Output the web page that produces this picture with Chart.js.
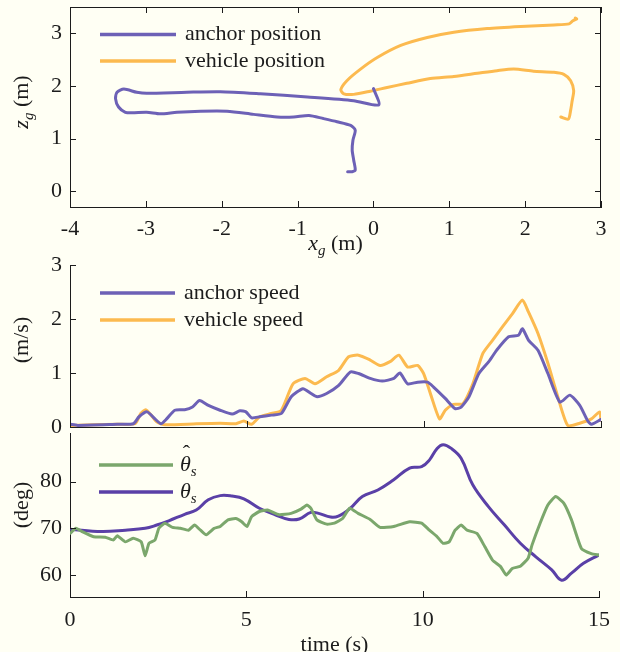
<!DOCTYPE html>
<html lang="en">
<head>
<meta charset="UTF-8">
<title>Anchor / vehicle motion</title>
<script src="https://cdn.jsdelivr.net/npm/chart.js"></script>
<style>
  body { margin: 0; background: #fffff4; }
  #wrap { position: relative; width: 620px; height: 652px; overflow: hidden; background: #fffff4; }
  #wrap canvas { position: absolute; left: 0; }
</style>
</head>
<body>
<div id="wrap">
  <canvas id="pos" width="620" height="258" style="top:0px"></canvas>
  <canvas id="speed" width="620" height="195" style="top:250px"></canvas>
  <canvas id="angle" width="620" height="227" style="top:425px"></canvas>
</div>
<script>
// ground-frame trajectories (m)
const anchorX = [0.00, 0.07, -0.26, -0.87, -1.49, -2.02, -2.46, -2.99, -3.12, -3.29, -3.38, -3.40, -3.36, -3.27, -3.18, -2.99, -2.81, -2.59, -2.28, -1.93, -1.58, -1.27, -1.05, -0.85, -0.66, -0.48, -0.30, -0.24, -0.27, -0.28, -0.26, -0.24, -0.28, -0.34];
const anchorZ = [1.95, 1.64, 1.72, 1.79, 1.85, 1.89, 1.88, 1.86, 1.88, 1.94, 1.88, 1.76, 1.60, 1.50, 1.49, 1.50, 1.47, 1.50, 1.52, 1.52, 1.46, 1.41, 1.41, 1.44, 1.38, 1.32, 1.25, 1.16, 0.97, 0.78, 0.59, 0.40, 0.37, 0.37];
const vehicleX = [2.47, 2.57, 2.60, 2.62, 2.64, 2.60, 2.51, 2.38, 2.11, 1.85, 1.63, 1.37, 1.06, 0.75, 0.44, 0.18, -0.04, -0.26, -0.39, -0.43, -0.35, -0.17, 0.05, 0.36, 0.71, 1.06, 1.50, 1.94, 2.38, 2.58, 2.63, 2.68, 2.66];
const vehicleZ = [1.41, 1.37, 1.54, 1.72, 1.91, 2.10, 2.22, 2.26, 2.28, 2.32, 2.29, 2.24, 2.18, 2.14, 2.05, 1.97, 1.90, 1.84, 1.85, 1.93, 2.10, 2.32, 2.54, 2.77, 2.92, 3.02, 3.09, 3.13, 3.16, 3.18, 3.24, 3.27, 3.29];
const posXTicks = [-4, -3, -2, -1, 0, 1, 2, 3];
const posZTicks = [0, 1, 2, 3];

// speeds (m/s) against time (s)
const anchorSpeedT = [0, 0.22, 1.34, 1.79, 1.95, 2.18, 2.40, 2.57, 2.73, 2.96, 3.24, 3.46, 3.66, 3.91, 4.24, 4.58, 4.80, 4.97, 5.13, 5.36, 5.69, 5.97, 6.25, 6.58, 6.81, 6.98, 7.25, 7.59, 7.92, 8.15, 8.48, 8.82, 9.15, 9.32, 9.54, 9.82, 10.10, 10.27, 10.60, 10.88, 11.05, 11.27, 11.55, 11.83, 12.05, 12.39, 12.67, 12.78, 12.95, 13.22, 13.50, 13.84, 14.12, 14.40, 14.62, 14.73, 15.00];
const anchorSpeed = [0.05, 0.03, 0.05, 0.06, 0.19, 0.28, 0.15, 0.06, 0.15, 0.31, 0.32, 0.37, 0.49, 0.40, 0.31, 0.24, 0.30, 0.28, 0.17, 0.19, 0.22, 0.25, 0.56, 0.71, 0.62, 0.56, 0.62, 0.77, 1.02, 0.99, 0.90, 0.85, 0.90, 1.00, 0.80, 0.83, 0.83, 0.74, 0.53, 0.34, 0.37, 0.56, 0.99, 1.21, 1.42, 1.67, 1.70, 1.82, 1.61, 1.42, 0.99, 0.46, 0.59, 0.40, 0.12, 0.05, 0.14];
const vehicleSpeedT = [0, 1.34, 1.84, 2.00, 2.14, 2.29, 2.46, 2.68, 3.57, 4.24, 4.69, 4.91, 5.13, 5.36, 5.69, 5.97, 6.30, 6.64, 6.92, 7.25, 7.59, 7.87, 8.15, 8.48, 8.76, 9.04, 9.29, 9.54, 9.82, 9.99, 10.21, 10.44, 10.60, 10.83, 11.10, 11.38, 11.66, 11.94, 12.22, 12.50, 12.78, 12.95, 13.22, 13.50, 13.78, 14.06, 14.40, 14.73, 14.96, 15.00];
const vehicleSpeed = [0.03, 0.05, 0.06, 0.25, 0.32, 0.22, 0.09, 0.04, 0.06, 0.07, 0.06, 0.11, 0.05, 0.19, 0.25, 0.31, 0.80, 0.90, 0.80, 0.93, 1.05, 1.30, 1.33, 1.24, 1.14, 1.21, 1.33, 1.11, 1.14, 0.99, 0.56, 0.15, 0.31, 0.42, 0.43, 0.80, 1.36, 1.61, 1.86, 2.10, 2.35, 2.13, 1.73, 1.18, 0.56, 0.03, 0.07, 0.15, 0.28, 0.12];
const speedTicks = [0, 1, 2, 3];
const timeTicks = [0, 5, 10, 15];

// measured vs model angle (deg)
const thetaHatT = [0, 0.17, 0.34, 0.67, 1.00, 1.23, 1.34, 1.57, 1.79, 2.02, 2.13, 2.24, 2.41, 2.52, 2.69, 2.91, 3.13, 3.36, 3.53, 3.70, 3.86, 4.09, 4.26, 4.48, 4.70, 4.87, 5.02, 5.15, 5.37, 5.60, 5.93, 6.27, 6.55, 6.72, 6.83, 7.00, 7.28, 7.50, 7.73, 7.93, 8.17, 8.51, 8.79, 9.18, 9.63, 9.97, 10.19, 10.41, 10.58, 10.75, 10.92, 11.09, 11.26, 11.54, 11.76, 11.98, 12.21, 12.37, 12.54, 12.77, 12.99, 13.10, 13.33, 13.55, 13.77, 14.00, 14.22, 14.50, 14.78, 15.00];
const thetaHat = [68.9, 70.0, 69.3, 68.2, 68.1, 67.5, 68.4, 67.1, 67.9, 67.1, 64.1, 66.8, 67.5, 70.0, 71.1, 70.2, 70.0, 69.6, 70.7, 69.6, 68.6, 70.0, 70.4, 71.8, 72.1, 71.4, 70.4, 72.5, 73.6, 73.9, 72.9, 73.2, 74.1, 75.0, 74.3, 71.8, 70.9, 71.1, 72.1, 74.3, 73.2, 71.9, 70.2, 70.4, 71.4, 71.1, 69.6, 68.2, 66.8, 67.1, 69.6, 70.7, 69.6, 68.9, 66.1, 63.2, 61.8, 60.0, 61.4, 61.9, 63.6, 66.4, 71.1, 75.0, 76.8, 75.4, 71.8, 65.7, 64.6, 64.3];
const thetaT = [0, 0.90, 1.57, 2.13, 2.46, 2.80, 3.25, 3.58, 3.92, 4.26, 4.59, 4.93, 5.37, 5.82, 6.21, 6.50, 6.83, 7.05, 7.39, 7.61, 7.95, 8.29, 8.73, 9.18, 9.63, 9.97, 10.19, 10.41, 10.58, 10.81, 11.09, 11.42, 11.87, 12.32, 12.77, 13.21, 13.66, 13.94, 14.22, 14.56, 15.00];
const theta = [69.8, 69.3, 69.6, 70.0, 70.7, 71.6, 73.0, 73.9, 76.1, 77.0, 76.9, 76.3, 74.3, 72.9, 71.9, 72.0, 73.4, 73.2, 72.4, 72.6, 74.3, 76.8, 78.2, 80.4, 82.9, 83.2, 84.6, 87.1, 87.9, 87.1, 85.0, 79.3, 74.6, 70.7, 66.8, 63.9, 61.1, 58.9, 60.4, 62.5, 64.3];
const angleTicks = [60, 70, 80];

const INK = '#1c1c1c';
const SERIF = '"Liberation Serif", "Times New Roman", serif';
const FS = 22;

const pairs = (xs, ys) => xs.map((x, i) => ({ x, y: ys[i] }));

// rich text: segments [text, style]; '' upright, 'i' italic, 's' italic subscript, 'h' italic with hat
function drawRich(ctx, segs, x, y, size, align) {
  const fontOf = s => (s ? 'italic ' : '') + (s === 's' ? Math.round(size * 0.7) : size) + 'px ' + SERIF;
  let total = 0;
  segs.forEach(([t, s]) => { ctx.font = fontOf(s); total += ctx.measureText(t).width; });
  let cx = align === 'center' ? x - total / 2 : x;
  segs.forEach(([t, s]) => {
    ctx.font = fontOf(s);
    const w = ctx.measureText(t).width;
    ctx.fillText(t, cx, s === 's' ? y + size * 0.3 : y);
    if (s === 'h') {
      ctx.font = size + 'px ' + SERIF;
      const hw = ctx.measureText('ˆ').width;
      ctx.fillText('ˆ', cx + w / 2 - hw / 2 + 1, y - size * 0.5);
    }
    cx += w;
  });
}

// inward ticks, optional closed box, axis titles and an inset legend
const panelDecor = {
  id: 'panelDecor',
  afterDraw(chart, args, o) {
    const { ctx, chartArea: a, scales } = chart;
    ctx.save();
    ctx.strokeStyle = INK;
    ctx.lineWidth = 1;
    if (o.box) ctx.strokeRect(a.left + 0.5, a.top + 0.5, a.right - a.left - 1, a.bottom - a.top);
    const L = 6;
    ctx.beginPath();
    scales.x.ticks.forEach(t => {
      const px = Math.round(scales.x.getPixelForValue(t.value)) + 0.5;
      ctx.moveTo(px, a.bottom); ctx.lineTo(px, a.bottom - L);
      if (o.box) { ctx.moveTo(px, a.top); ctx.lineTo(px, a.top + L); }
    });
    scales.y.ticks.forEach(t => {
      const py = Math.round(scales.y.getPixelForValue(t.value)) + 0.5;
      ctx.moveTo(a.left, py); ctx.lineTo(a.left + L, py);
      if (o.box) { ctx.moveTo(a.right, py); ctx.lineTo(a.right - L, py); }
    });
    ctx.stroke();

    ctx.fillStyle = INK;
    ctx.textBaseline = 'middle';
    ctx.textAlign = 'left';
    if (o.xTitle) drawRich(ctx, o.xTitle, (a.left + a.right) / 2, o.xTitleY, FS, 'center');
    if (o.yTitle) {
      ctx.save();
      ctx.translate(o.yTitleX, o.yTitleY);
      ctx.rotate(-Math.PI / 2);
      drawRich(ctx, o.yTitle, 0, 0, FS, 'center');
      ctx.restore();
    }
    (o.legend || []).forEach((segs, i) => {
      const ds = chart.data.datasets[i];
      const y = o.legendY[i];
      ctx.strokeStyle = ds.borderColor;
      ctx.lineWidth = 3.5;
      ctx.beginPath();
      ctx.moveTo(o.legendX[0], y); ctx.lineTo(o.legendX[1], y);
      ctx.stroke();
      drawRich(ctx, segs, o.legendX[2], y, FS, 'left');
    });
    ctx.restore();
  }
};

function axis(min, max, ticks, opts, tickOpts) {
  return Object.assign({
    type: 'linear', min, max,
    grid: { display: false, drawTicks: false },
    border: { display: true, color: INK, width: 1 },
    afterBuildTicks: s => { s.ticks = ticks.map(v => ({ value: v })); },
    ticks: Object.assign({ color: INK, font: { family: SERIF, size: FS }, padding: 8, autoSkip: false, maxRotation: 0 }, tickOpts)
  }, opts);
}

// fixed-width value axis; its labels may overhang the plot edges
const yFit = s => { s.width = 70; s.paddingTop = 0; s.paddingBottom = 0; };

function lineSet(label, data, color, tension) {
  return { label, data, borderColor: color, borderWidth: 3, pointRadius: 0, tension,
           borderJoinStyle: 'round', borderCapStyle: 'round', showLine: true, fill: false };
}

Chart.defaults.animation = false;
Chart.defaults.devicePixelRatio = 1;

function options(padTop, scales, decor) {
  return {
    responsive: false,
    layout: { padding: { left: 0, right: 19, top: padTop, bottom: 0 } },
    scales,
    plugins: { legend: { display: false }, tooltip: { enabled: false }, panelDecor: decor }
  };
}

// positions in the ground plane
new Chart(document.getElementById('pos'), {
  type: 'scatter',
  data: { datasets: [
    lineSet('anchor position', pairs(anchorX, anchorZ), '#6d61b6', 0.25),
    lineSet('vehicle position', pairs(vehicleX, vehicleZ), '#fcba4f', 0.25)
  ] },
  options: options(7, {
    x: axis(-4, 3, posXTicks, { afterFit: s => { s.height = 51; } }, { padding: 9 }),
    y: axis(-0.3, 3.5, posZTicks, { afterFit: yFit })
  }, {
    box: true,
    xTitle: [['x', 'i'], ['g', 's'], [' (m)', '']], xTitleY: 244,
    yTitle: [['z', 'i'], ['g', 's'], [' (m)', '']], yTitleX: 22, yTitleY: 102,
    legend: [[['anchor position', '']], [['vehicle position', '']]],
    legendX: [100, 176, 185], legendY: [34.5, 61]
  }),
  plugins: [panelDecor]
});

// speeds
new Chart(document.getElementById('speed'), {
  type: 'line',
  data: { datasets: [
    lineSet('anchor speed', pairs(anchorSpeedT, anchorSpeed), '#6d61b6', 0.2),
    lineSet('vehicle speed', pairs(vehicleSpeedT, vehicleSpeed), '#fcba4f', 0.2)
  ] },
  options: options(15, {
    x: axis(0, 15, timeTicks, { afterFit: s => { s.height = 18; } }, { display: false }),
    y: axis(0, 3, speedTicks, { afterFit: yFit })
  }, {
    yTitle: [['(m/s)', '']], yTitleX: 22, yTitleY: 90,
    legend: [[['anchor speed', '']], [['vehicle speed', '']]],
    legendX: [100, 175, 184], legendY: [43, 70]
  }),
  plugins: [panelDecor]
});

// angles
new Chart(document.getElementById('angle'), {
  type: 'line',
  data: { datasets: [
    lineSet('θ̂s', pairs(thetaHatT, thetaHat), '#7ba76c', 0.15),
    lineSet('θs', pairs(thetaT, theta), '#5a40a7', 0.4)
  ] },
  options: options(8, {
    x: axis(0, 15, timeTicks, { afterFit: s => { s.height = 55; } }, { padding: 10 }),
    y: axis(55.3, 90.4, angleTicks, { afterFit: yFit })
  }, {
    xTitle: [['time (s)', '']], xTitleY: 220,
    yTitle: [['(deg)', '']], yTitleX: 22, yTitleY: 80,
    legend: [[['θ', 'h'], ['s', 's']], [['θ', 'i'], ['s', 's']]],
    legendX: [99, 173, 180], legendY: [40, 67]
  }),
  plugins: [panelDecor]
});
</script>
</body>
</html>
